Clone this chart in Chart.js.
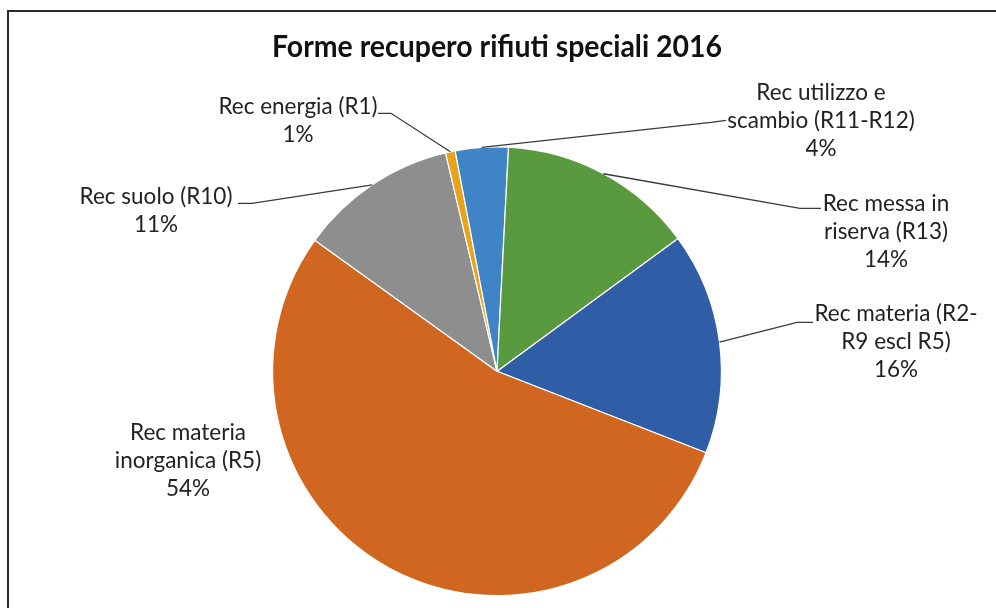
<!DOCTYPE html>
<html>
<head>
<meta charset="utf-8">
<script src="https://cdn.jsdelivr.net/npm/chart.js@4.4.1/dist/chart.umd.min.js"></script>
<style>
html,body{margin:0;padding:0;background:#fff;}
canvas{display:block;}
</style>
</head>
<body>
<canvas id="c" width="996" height="608"></canvas>
<script>
// ---- Data ----
const titleText = 'Forme recupero rifiuti speciali 2016';
const categories = [
  ['Rec materia (R2-', 'R9 escl R5)'],
  ['Rec materia', 'inorganica (R5)'],
  ['Rec suolo (R10)'],
  ['Rec energia (R1)'],
  ['Rec utilizzo e', 'scambio (R11-R12)'],
  ['Rec messa in', 'riserva (R13)']
];
const shares = [16.0, 54.0, 11.4, 0.7, 3.8, 14.1];
const colors = ['#2F5DA6', '#D0661F', '#8E8E8E', '#E6A31B', '#3F84C6', '#5A9A3F'];

// ---- Label layout (relative to pie centre, px) ----
// t: first text line centre; a: leader attach point; e: elbow point
const labelLayout = [
  {t:[399,-58],  a:[316,-49],  e:[300,-49]},
  {t:[-309,61],  a:null,       e:null},
  {t:[-341,-175],a:[-259,-168],e:[-245,-168]},
  {t:[-199,-265],a:[-119,-258],e:[-106,-258]},
  {t:[324,-279], a:[229,-251], e:[214,-249]},
  {t:[389,-168], a:[324,-163], e:[303,-163]}
];
const LINE_H = 28;
const LABEL_FONT = '22.5px Lato';

const framePlugin = {
  id: 'frame',
  beforeDraw(chart) {
    const ctx = chart.ctx;
    ctx.save();
    ctx.fillStyle = '#fff';
    ctx.fillRect(0, 0, chart.width, chart.height);
    ctx.strokeStyle = '#2a2a2a';
    ctx.lineWidth = 2;
    ctx.beginPath();
    ctx.moveTo(8, chart.height);
    ctx.lineTo(8, 11);
    ctx.lineTo(chart.width, 11);
    ctx.stroke();
    ctx.restore();
  }
};

const labelPlugin = {
  id: 'pieLabels',
  afterDatasetsDraw(chart) {
    const ctx = chart.ctx;
    const meta = chart.getDatasetMeta(0);
    const data = chart.data.datasets[0].data;
    const total = data.reduce((s, v) => s + v, 0);
    ctx.save();
    meta.data.forEach((arc, i) => {
      const p = arc.getProps(['x','y','startAngle','endAngle','outerRadius'], true);
      const cx = p.x, cy = p.y;
      const mid = (p.startAngle + p.endAngle) / 2;
      const L = labelLayout[i];
      if (L.a) {
        const px = cx + Math.cos(mid) * p.outerRadius;
        const py = cy + Math.sin(mid) * p.outerRadius;
        ctx.strokeStyle = '#3a3a3a';
        ctx.lineWidth = 1.3;
        ctx.beginPath();
        ctx.moveTo(px, py);
        ctx.lineTo(cx + L.e[0], cy + L.e[1]);
        ctx.lineTo(cx + L.a[0], cy + L.a[1]);
        ctx.stroke();
      }
      const lines = categories[i].concat([Math.round(data[i] / total * 100) + '%']);
      ctx.fillStyle = '#222222';
      ctx.font = LABEL_FONT;
      ctx.textAlign = 'center';
      ctx.textBaseline = 'middle';
      lines.forEach((ln, k) => {
        ctx.fillText(ln, cx + L.t[0], cy + L.t[1] + k * LINE_H);
      });
    });
    ctx.restore();
  }
};

new Chart(document.getElementById('c'), {
  type: 'pie',
  data: {
    labels: categories.map(c => c.join(' ')),
    datasets: [{
      data: shares,
      backgroundColor: colors,
      borderColor: '#ffffff',
      borderWidth: 1.2,
      hoverOffset: 0
    }]
  },
  options: {
    responsive: false,
    animation: false,
    rotation: 53.7,
    layout: { padding: { left: 272, right: 274, top: 0, bottom: 11 } },
    plugins: {
      legend: { display: false },
      tooltip: { enabled: false },
      title: {
        display: true,
        text: titleText,
        color: '#111',
        font: { family: 'Lato', size: 30.5, weight: 'bold', lineHeight: 1.2 },
        padding: { top: 29, bottom: 80 }
      }
    }
  },
  plugins: [framePlugin, labelPlugin]
});
</script>
</body>
</html>
